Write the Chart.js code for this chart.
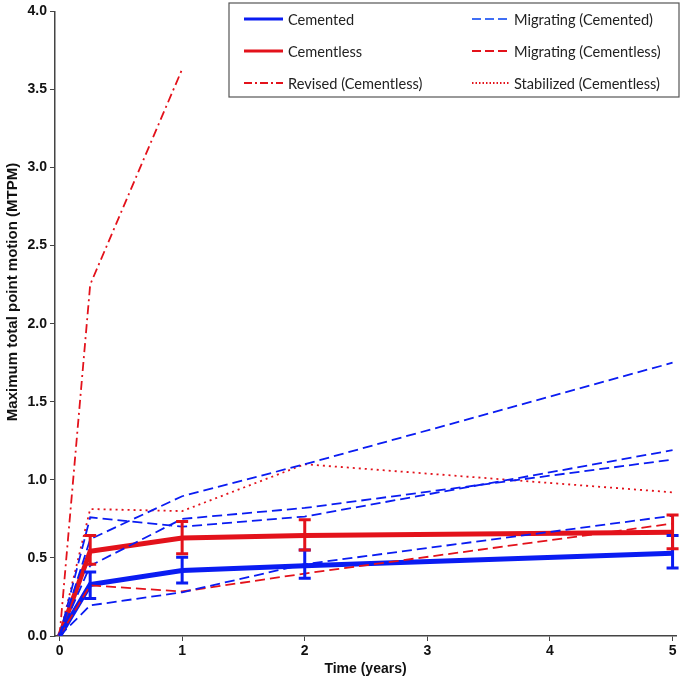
<!DOCTYPE html>
<html>
<head>
<meta charset="utf-8">
<script src="https://cdn.jsdelivr.net/npm/chart.js@4.4.1/dist/chart.umd.min.js"></script>
<style>
  html, body { margin: 0; padding: 0; background: #fff; }
  #wrap { width: 683px; height: 682px; }
</style>
</head>
<body>
<div id="wrap"><canvas id="chart"></canvas></div>
<script>
// data
const years = [0, 0.25, 1, 2, 5];
const cementedMean = [0, 0.33, 0.42, 0.45, 0.53];
const cementedLow = [null, 0.24, 0.34, 0.37, 0.435];
const cementedHigh = [null, 0.41, 0.505, 0.55, 0.643];
const cementlessMean = [0, 0.543, 0.628, 0.643, 0.665];
const cementlessLow = [null, 0.46, 0.526, 0.55, 0.558];
const cementlessHigh = [null, 0.643, 0.733, 0.745, 0.775];
const migCemented1 = [0, 0.62, 0.895, 1.10, 1.75];
const migCemented2 = [0, 0.76, 0.70, 0.765, 1.19];
const migCemented3 = [0, 0.45, 0.75, 0.82, 1.13];
const migCemented4 = [0, 0.196, 0.28, 0.46, 0.77];
const migCementless = [0, 0.324, 0.285, 0.40, 0.72];
const stabCementless = [0, 0.813, 0.80, 1.10, 0.92];
const revisedYears = [0, 0.25, 1];
const revisedCementless = [0, 2.25, 3.63];
const xTicks = [0, 1, 2, 3, 4, 5];
const yTicks = [0, 0.5, 1, 1.5, 2, 2.5, 3, 3.5, 4];

const BLUE = '#0a1cf2';
const RED = '#e3121b';
const FAMILY = "'Liberation Sans', Arial, sans-serif";
const tickFont = { family: FAMILY, size: 14, weight: 'bold' };

function pts(xs, ys) {
    return xs.map((x, i) => ({ x: x, y: ys[i] }));
}

function dashed(label, ys, color) {
    return { label: label, data: pts(years, ys), borderColor: color, borderWidth: 1.8, borderDash: [10, 5], pointRadius: 0, fill: false };
}

const datasets = [
    dashed('Migrating (Cemented)', migCemented1, BLUE),
    dashed('Migrating (Cemented)', migCemented2, BLUE),
    dashed('Migrating (Cemented)', migCemented3, BLUE),
    dashed('Migrating (Cemented)', migCemented4, BLUE),
    dashed('Migrating (Cementless)', migCementless, RED),
    { label: 'Stabilized (Cementless)', data: pts(years, stabCementless), borderColor: RED, borderWidth: 1.8, borderDash: [2, 4], pointRadius: 0 },
    { label: 'Revised (Cementless)', data: pts(revisedYears, revisedCementless), borderColor: RED, borderWidth: 1.8, borderDash: [9, 4, 2, 4], pointRadius: 0 },
    { label: 'Cemented', data: pts(years, cementedMean), borderColor: BLUE, borderWidth: 5, pointRadius: 0, low: cementedLow, high: cementedHigh },
    { label: 'Cementless', data: pts(years, cementlessMean), borderColor: RED, borderWidth: 5, pointRadius: 0, low: cementlessLow, high: cementlessHigh }
];

// error bars from the low/high arrays
const errorBars = {
    id: 'errorBars',
    afterDatasetsDraw(chart) {
        const ctx = chart.ctx, xs = chart.scales.x, ys = chart.scales.y;
        chart.data.datasets.forEach(ds => {
            if (!ds.low) return;
            ctx.save();
            ctx.strokeStyle = ds.borderColor;
            ctx.lineWidth = 3;
            years.forEach((yr, i) => {
                if (ds.low[i] == null) return;
                const px = xs.getPixelForValue(yr);
                const top = ys.getPixelForValue(ds.high[i]);
                const bot = ys.getPixelForValue(ds.low[i]);
                ctx.beginPath();
                ctx.moveTo(px, top); ctx.lineTo(px, bot);
                ctx.moveTo(px - 6, top); ctx.lineTo(px + 6, top);
                ctx.moveTo(px - 6, bot); ctx.lineTo(px + 6, bot);
                ctx.stroke();
            });
            ctx.restore();
        });
    }
};

// two-column boxed legend in the top right, plus the y title
const boxLegend = {
    id: 'boxLegend',
    afterDraw(chart) {
        const ctx = chart.ctx;
        const items = [
            ['Cemented', BLUE, 3, []], ['Migrating (Cemented)', '#3f6ef5', 1.8, [9, 4]],
            ['Cementless', RED, 3, []], ['Migrating (Cementless)', RED, 1.8, [9, 4]],
            ['Revised (Cementless)', RED, 1.8, [8, 3, 2, 3]], ['Stabilized (Cementless)', RED, 1.8, [1.5, 2]]
        ];
        ctx.save();
        ctx.fillStyle = '#fff';
        ctx.fillRect(229, 3, 450, 94);
        ctx.strokeStyle = '#555';
        ctx.lineWidth = 1.2;
        ctx.strokeRect(229, 3, 450, 94);
        ctx.font = "14.6px Lato, 'Open Sans', sans-serif";
        ctx.textBaseline = 'middle';
        items.forEach((it, i) => {
            const col = i % 2, row = Math.floor(i / 2);
            const y = 19 + row * 32;
            const x0 = col ? 472 : 244, x1 = col ? 509 : 283;
            ctx.strokeStyle = it[1];
            ctx.lineWidth = it[2];
            ctx.setLineDash(it[3]);
            ctx.beginPath(); ctx.moveTo(x0, y); ctx.lineTo(x1, y); ctx.stroke();
            ctx.setLineDash([]);
            ctx.fillStyle = '#222';
            ctx.fillText(it[0], x1 + 5, y + 1);
        });
        ctx.translate(13, 292);
        ctx.rotate(-Math.PI / 2);
        ctx.textAlign = 'center';
        ctx.font = 'bold 15px ' + FAMILY;
        ctx.fillStyle = '#111';
        ctx.fillText('Maximum total point motion (MTPM)', 0, 0);
        ctx.restore();
    }
};

new Chart(document.getElementById('chart'), {
    type: 'line',
    data: { datasets: datasets },
    plugins: [errorBars, boxLegend],
    options: {
        responsive: true,
        maintainAspectRatio: false,
        animation: false,
        layout: { padding: { top: 8, right: 7, left: 0, bottom: 0 } },
        plugins: { legend: { display: false }, tooltip: { enabled: false } },
        elements: { line: { tension: 0 } },
        scales: {
            x: {
                type: 'linear', min: -0.037, max: 5.028,
                afterBuildTicks: s => { s.ticks = xTicks.map(v => ({ value: v })); },
                afterFit: s => { s.height = 46; },
                grid: { drawOnChartArea: false, drawTicks: true, tickLength: 5, color: '#444' },
                border: { color: '#444', width: 1.5 },
                ticks: { color: '#111', font: tickFont, padding: 2, maxRotation: 0 },
                title: { display: true, text: 'Time (years)', color: '#111', font: { family: FAMILY, size: 14, weight: 'bold' }, padding: { top: 5 } }
            },
            y: {
                min: 0, max: 4,
                afterBuildTicks: s => { s.ticks = yTicks.map(v => ({ value: v })); },
                afterFit: s => { s.width = 55; },
                grid: { drawOnChartArea: false, drawTicks: true, tickLength: 5, color: '#444' },
                border: { color: '#444', width: 1.5 },
                ticks: { color: '#111', font: tickFont, padding: 3, callback: v => v.toFixed(1) }
            }
        }
    }
});
</script>
</body>
</html>
